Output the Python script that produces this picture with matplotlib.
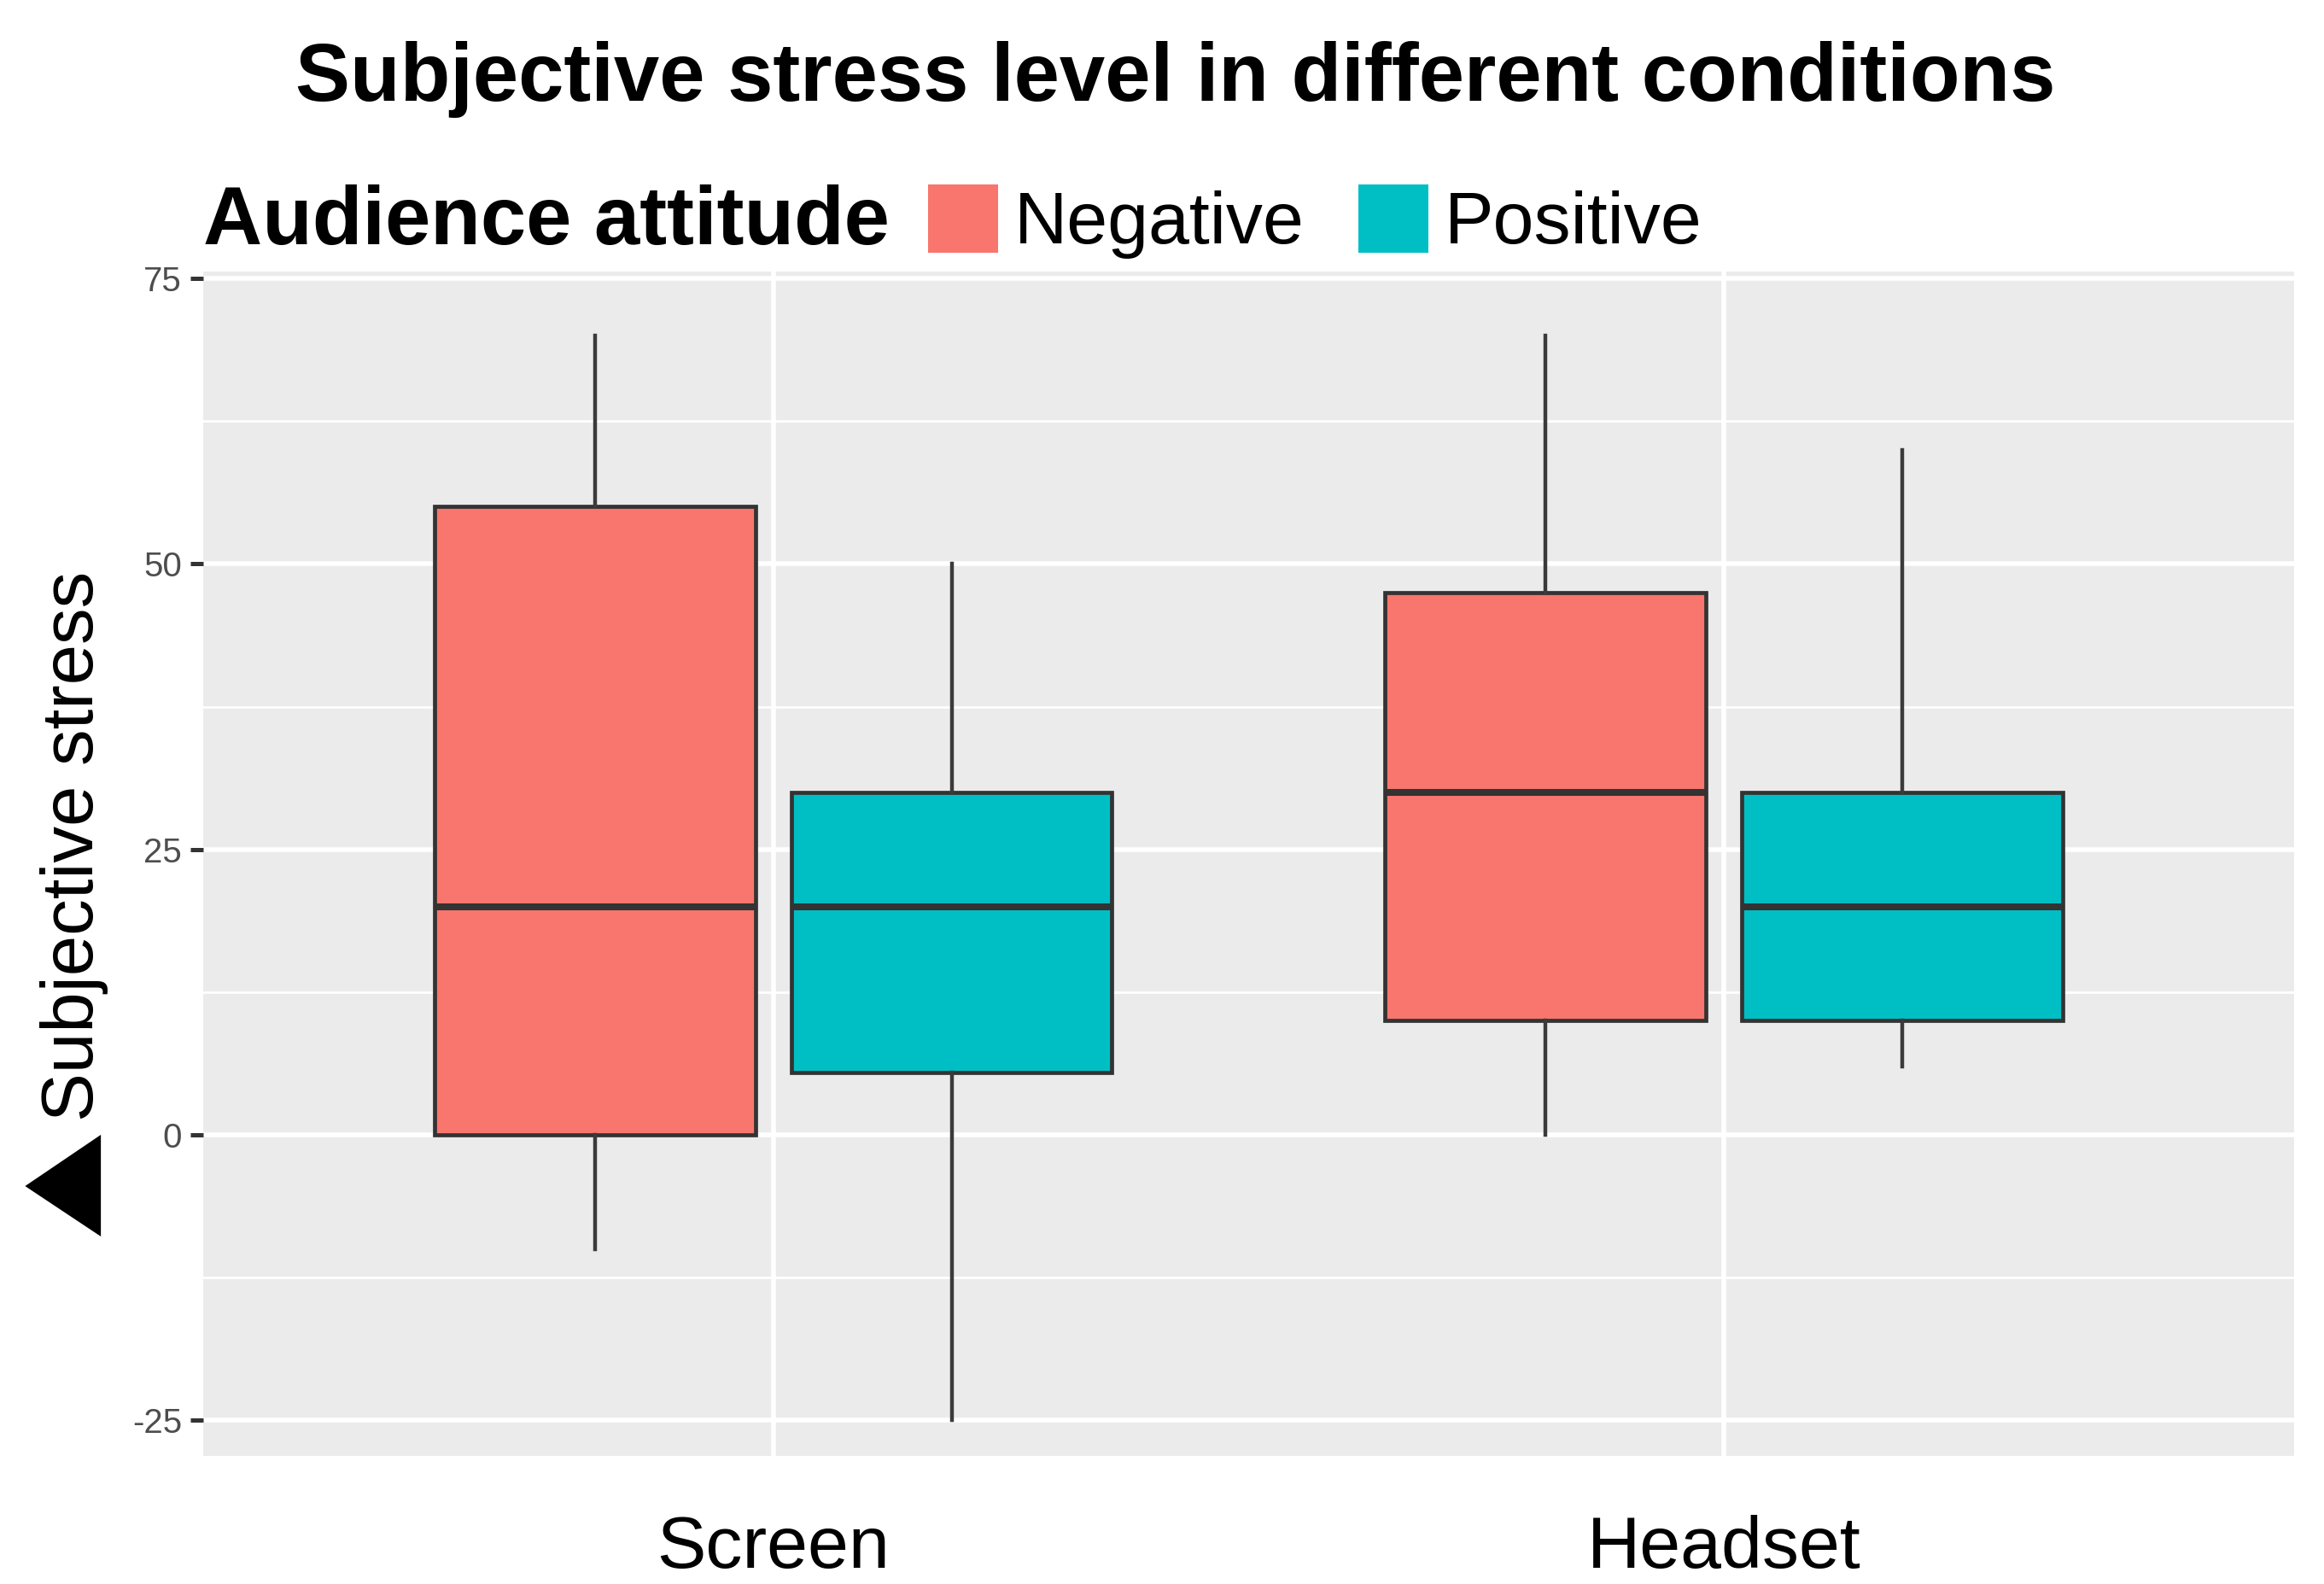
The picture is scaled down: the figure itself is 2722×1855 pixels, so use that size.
import matplotlib
matplotlib.use("Agg")
import matplotlib.pyplot as plt
from matplotlib.patches import Patch, Polygon

# data
conditions = ["Screen", "Headset"]
attitudes = ["Negative", "Positive"]
colors = {"Negative": "#F8766D", "Positive": "#00BFC4"}

# per attitude, one value per condition
whislo = {"Negative": [-10, 0], "Positive": [-25, 6]}
q1 = {"Negative": [0, 10], "Positive": [5.5, 10]}
med = {"Negative": [20, 30], "Positive": [20, 20]}
q3 = {"Negative": [55, 47.5], "Positive": [30, 30]}
whishi = {"Negative": [70, 70], "Positive": [50, 60]}

yticks = [-25, 0, 25, 50, 75]
yminor = [-12.5, 12.5, 37.5, 62.5]

plt.rcParams["font.family"] = ["Liberation Sans", "DejaVu Sans"]

fig = plt.figure(figsize=(13.61, 9.275), dpi=200)
ax = fig.add_axes([0.0874, 0.0809, 0.8997, 0.7477])
ax.set_facecolor("#EBEBEB")
for s in ax.spines.values():
    s.set_visible(False)

offsets = {"Negative": -0.1875, "Positive": 0.1875}
width = 0.3375
for att in attitudes:
    stats = []
    for i, c in enumerate(conditions):
        stats.append(dict(whislo=whislo[att][i], q1=q1[att][i], med=med[att][i],
                          q3=q3[att][i], whishi=whishi[att][i], fliers=[]))
    pos = [i + 1 + offsets[att] for i in range(len(conditions))]
    ax.bxp(stats, positions=pos, widths=width, patch_artist=True,
           showcaps=False, showfliers=False, manage_ticks=False,
           boxprops=dict(facecolor=colors[att], edgecolor="#333333", linewidth=1.7),
           whiskerprops=dict(color="#3a3a3a", linewidth=1.6),
           medianprops=dict(color="#333333", linewidth=2.9, solid_capstyle="butt"),
           zorder=3)

ax.set_xlim(0.4, 2.6)
ax.set_ylim(-28.1, 75.6)
ax.set_xticks([1, 2])
ax.set_xticklabels(conditions, fontsize=31)
ax.tick_params(axis="x", length=0, pad=25)
ax.set_yticks(yticks)
ax.set_yticklabels([str(t) for t in yticks], fontsize=14.5, color="#4D4D4D")
ax.set_yticks(yminor, minor=True)
ax.tick_params(axis="y", which="major", length=5.4, width=1.8, color="#333333", pad=3.6)
ax.tick_params(axis="y", which="minor", length=0)
ax.grid(True, which="major", color="white", linewidth=2.0, zorder=0)
ax.grid(True, which="minor", axis="y", color="white", linewidth=1.0, zorder=0)
ax.set_axisbelow(True)

fig.text(0.5057, 0.9364, "Subjective stress level in different conditions",
         ha="center", va="baseline", fontsize=34.5, fontweight="bold")

fig.text(0.0874, 0.8456, "Audience attitude", ha="left", va="baseline",
         fontsize=34.5, fontweight="bold")
handles = [Patch(facecolor=colors[a], edgecolor="none") for a in attitudes]
fig.legend(handles, attitudes, ncol=2, loc="center left",
           bbox_to_anchor=(0.3993, 0.8600), frameon=False, fontsize=31,
           handlelength=0.95, handleheight=1.05, handletextpad=0.22,
           columnspacing=0.74, borderaxespad=0, borderpad=0)

fig.text(0.0318, 0.466, "Subjective stress", rotation=90, ha="center",
         va="center", fontsize=30.7)
# the filled triangle that sits under the y label
fig.add_artist(Polygon([(0.0108, 0.2512), (0.0434, 0.2836), (0.0434, 0.2194)],
                       closed=True, facecolor="black", edgecolor="none",
                       transform=fig.transFigure))

fig.savefig("out.png", dpi=200)
